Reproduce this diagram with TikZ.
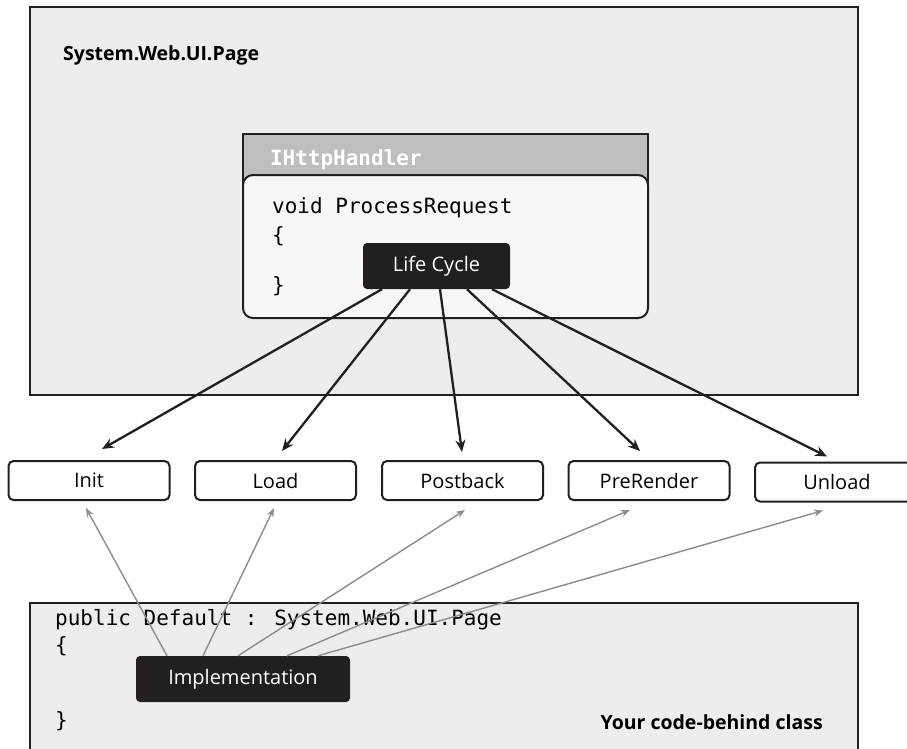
\documentclass[tikz,border=0pt]{standalone}
\usepackage{fontspec}
\setmainfont{Open Sans}
\newfontfamily\codefont{DejaVu Sans Mono}
\usepackage{tikz}
\usetikzlibrary{arrows.meta}
\definecolor{pgink}{RGB}{35,31,32}
\definecolor{pgbg}{RGB}{237,237,237}
\definecolor{pghdr}{RGB}{189,190,192}
\definecolor{pgwhite}{RGB}{247,247,247}
\definecolor{pggray}{RGB}{140,140,140}

\begin{document}
\begin{tikzpicture}[x=1pt, y=-1pt,
  frame/.style={draw=pgink, line width=2.4pt, fill=pgbg, inner sep=0pt},
  evt/.style={draw=pgink, line width=2pt, rounded corners=5pt, fill=white,
    minimum width=161pt, minimum height=39pt, inner sep=0pt,
    font=\fontsize{20}{24}\selectfont},
  dark/.style={fill=pgink, text=white, rounded corners=4pt, inner sep=0pt,
    minimum height=46pt, font=\fontsize{20}{24}\selectfont},
  code/.style={anchor=west, inner sep=0pt, text height=15pt, text depth=4pt,
    font=\codefont\fontsize{21}{25}\selectfont},
  lbl/.style={inner sep=0pt, font=\bfseries\fontsize{19.5}{24}\selectfont},
  arr/.style={-{Stealth[length=12pt,width=10pt]}, line width=2.3pt, pgink},
  garr/.style={-{Stealth[length=9pt,width=7pt]}, line width=1.4pt, pggray}]
\clip (0,0) rectangle (907,748);
\fill[white] (0,0) rectangle (907,748);
% Top: page class
\node[frame, minimum width=828pt, minimum height=388pt]
  (page) at (444,201) {};
\node[lbl, anchor=west] (pagelbl) at (63,55) {System.Web.UI.Page};
% IHttpHandler
\node[draw=pgink, line width=2pt, fill=pghdr, text=white,
  minimum width=405pt, minimum height=52pt, inner xsep=27pt,
  text width=351pt, align=left, font=\codefont\bfseries\fontsize{21}{25}\selectfont]
  (hdr) at (445.5,160) {IHttpHandler};
\node[draw=pgink, line width=2pt, fill=pgwhite, rounded corners=10pt,
  minimum width=405pt, minimum height=143pt]
  (handler) at (445.5,246.5) {};
\node[code] (proc) at (272,208) {void ProcessRequest};
\node[code] (popen) at (272,237) {\{};
\node[code] (pclose) at (272,287) {\}};
\node[dark, minimum width=147pt] (lc) at (436.5,266) {Life Cycle};
% Events
\node[evt] (init) at (89,480.5) {Init};
\node[evt] (load) at (275.5,480.5) {Load};
\node[evt] (postback) at (462.5,480.5) {Postback};
\node[evt] (prerender) at (649,480.5) {PreRender};
\node[evt, minimum width=164pt] (unload) at (837,482) {Unload};
\draw[arr] ([xshift=-54.5pt]lc.south) -- ([xshift=13pt,yshift=11pt]init.north);
\draw[arr] ([xshift=-26.5pt]lc.south) -- ([xshift=6.5pt,yshift=9pt]load.north);
\draw[arr] ([xshift=3.5pt]lc.south) -- ([xshift=-0.5pt,yshift=8pt]postback.north);
\draw[arr] ([xshift=30.5pt]lc.south) -- ([xshift=-9pt,yshift=9pt]prerender.north);
\draw[arr] ([xshift=55.5pt]lc.south) -- ([xshift=-10pt,yshift=5pt]unload.north);
% Bottom: code-behind
\node[frame, minimum width=828pt, minimum height=157pt]
  (behind) at (444,681.5) {};
\node[code] (pub) at (55,620) {public Default : System.Web.UI.Page};
\node[code] (bopen) at (55,647) {\{};
\node[code] (bclose) at (55,722) {\}};
\node[lbl, anchor=east] (behindlbl) at (823,722) {Your code-behind class};
\node[dark, minimum width=214pt] (impl) at (243,679) {Implementation};
\draw[garr] ([xshift=-76pt]impl.north) -- ([xshift=-3pt,yshift=-7pt]init.south);
\draw[garr] ([xshift=-40pt]impl.north) -- ([xshift=-1.5pt,yshift=-7pt]load.south);
\draw[garr] ([xshift=-5pt]impl.north) -- ([xshift=2.5pt,yshift=-9pt]postback.south);
\draw[garr] ([xshift=44pt]impl.north) -- ([xshift=-19pt,yshift=-9pt]prerender.south);
\draw[garr] ([xshift=75pt]impl.north) -- ([xshift=-14pt,yshift=-8pt]unload.south);
\end{tikzpicture}
\end{document}
